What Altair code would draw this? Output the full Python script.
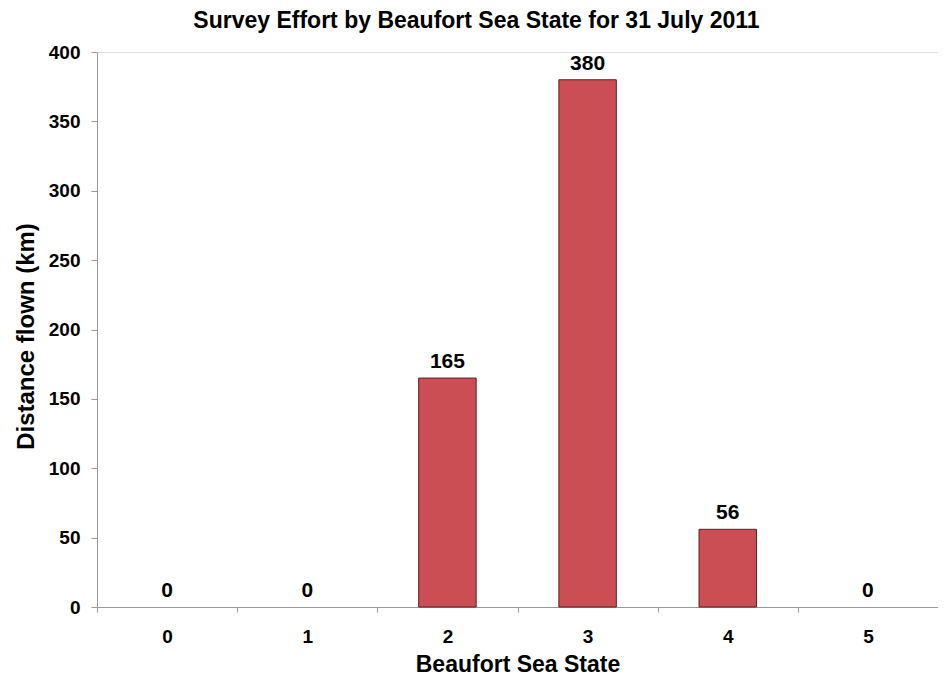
import altair as alt
import pandas as pd

states = ["0", "1", "2", "3", "4", "5"]
distance = [0, 0, 165, 380, 56, 0]

df = pd.DataFrame({"state": states, "distance": distance})

FONT = "Liberation Sans"
W, H = 841, 555
STEP = W / 6

base = alt.Chart(df).encode(
    x=alt.X(
        "state:N",
        sort=states,
        scale=alt.Scale(paddingInner=0.59, paddingOuter=0.295),
        axis=alt.Axis(
            title="Beaufort Sea State",
            labelAngle=0,
            labelFont=FONT,
            labelFontSize=19,
            labelFontWeight="bold",
            labelColor="black",
            labelPadding=15,
            tickOffset=-STEP / 2,
            labelOffset=STEP / 2,
            tickSize=5,
            tickColor="#999999",
            domainColor="#999999",
            titleFont=FONT,
            titleFontSize=23,
            titleFontWeight="bold",
            titleColor="black",
            titlePadding=7,
        ),
    ),
    y=alt.Y(
        "distance:Q",
        scale=alt.Scale(domain=[0, 400], nice=False),
        axis=alt.Axis(
            title="Distance flown (km)",
            values=list(range(0, 401, 50)),
            grid=False,
            labelFont=FONT,
            labelFontSize=19,
            labelFontWeight="bold",
            labelColor="black",
            labelPadding=11,
            tickSize=6,
            tickColor="#999999",
            domainColor="#999999",
            titleFont=FONT,
            titleFontSize=24,
            titleFontWeight="bold",
            titleColor="black",
            titlePadding=10,
            titleY=284,
        ),
    ),
)

bars = base.transform_filter("datum.distance > 0").mark_bar(
    color="#CC4E55", stroke="#5b2020", strokeWidth=1
)
labels = base.mark_text(
    dy=-10, baseline="alphabetic", font=FONT, fontSize=21, fontWeight="bold", color="black"
).encode(text="distance:Q")

chart = (
    alt.layer(bars, labels)
    .properties(
        width=W,
        height=H,
        title=alt.TitleParams(
            "Survey Effort by Beaufort Sea State for 31 July 2011",
            font=FONT,
            fontSize=23,
            fontWeight="bold",
            color="black",
            offset=10,
            dx=-41,
        ),
        autosize=alt.AutoSizeParams(type="none"),
        padding={"left": 89, "top": 44, "right": 0, "bottom": 69},
    )
    .configure_view(stroke=None)
    .configure(background="white")
)

chart.save("out.html", embed_options={"renderer": "svg", "actions": False})
